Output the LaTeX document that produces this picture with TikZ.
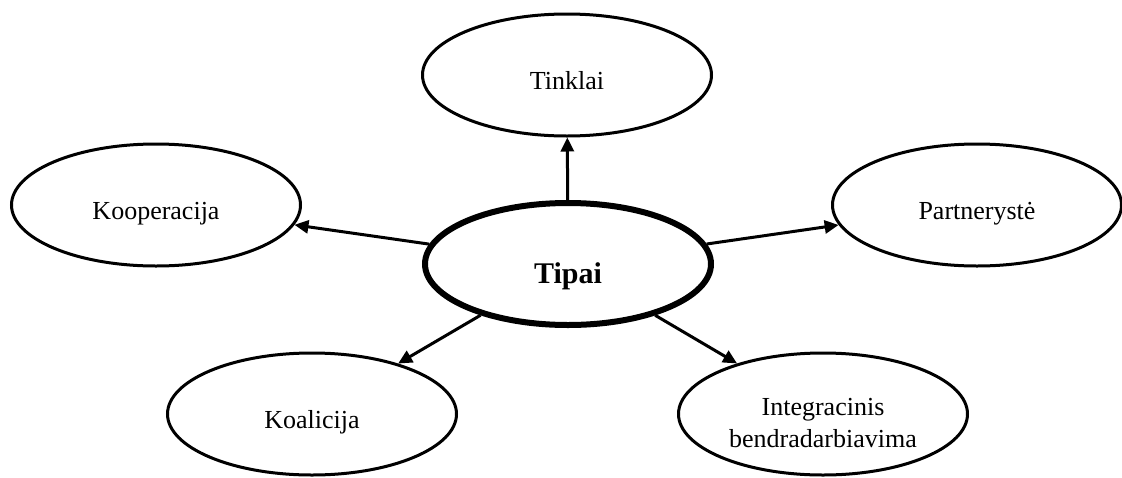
\documentclass[tikz,border=0pt]{standalone}
\usepackage{fontspec}
\setmainfont{Liberation Serif}
\usetikzlibrary{shapes.geometric,arrows.meta}
\begin{document}
\begin{tikzpicture}[x=1pt,y=-1pt,
  kind/.style={ellipse,draw,line width=3pt,minimum width=289pt,minimum height=122pt,
    inner sep=0pt,align=center,font=\fontsize{26}{31}\selectfont},
  oneline/.style={kind,text height=28pt,text depth=0pt},
  hub/.style={ellipse,draw,line width=6pt,minimum width=286pt,minimum height=122pt,
    inner sep=0pt,font=\fontsize{30}{36}\selectfont\bfseries},
  link/.style={line width=3pt,-{Triangle[length=14pt,width=13pt]}}]
\useasboundingbox (0,0) rectangle (1122,477);
\node[hub]  (tipai) at (568,264) {\raisebox{-19pt}[0pt][0pt]{Tipai}};
\node[oneline] (tinklai) at (567,75) {Tinklai};
\node[oneline] (koop) at (156,205) {Kooperacija};
\node[oneline] (part) at (977,205) {Partnerystė};
\node[oneline] (koal) at (312,414) {Koalicija};
\node[kind,label={[yshift=-9pt,align=center,font=\fontsize{26}{32}\selectfont]center:Integracinis\\bendradarbiavima}]
  (integ) at (823,414) {};
\draw[link] (tipai) -- (tinklai);
\draw[link] (tipai) -- (koop);
\draw[link] (tipai) -- (part);
\draw[link] (tipai) -- (koal);
\draw[link] (tipai) -- (integ);
\end{tikzpicture}
\end{document}
